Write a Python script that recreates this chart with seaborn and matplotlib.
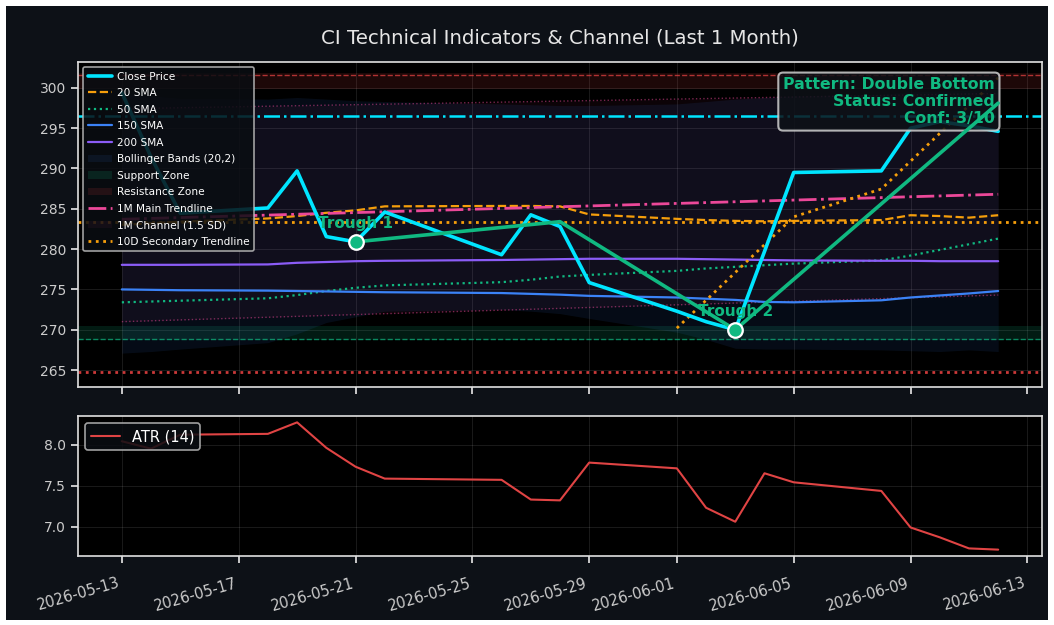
import matplotlib
matplotlib.use("Agg")
import matplotlib.pyplot as plt
import matplotlib.dates as mdates
from matplotlib.patches import Rectangle
import seaborn as sns
import pandas as pd

# ---------------- data ----------------
dates = ['2026-05-13', '2026-05-14', '2026-05-15', '2026-05-18', '2026-05-19',
         '2026-05-20', '2026-05-21', '2026-05-22', '2026-05-26', '2026-05-27',
         '2026-05-28', '2026-05-29', '2026-06-01', '2026-06-02', '2026-06-03',
         '2026-06-04', '2026-06-05', '2026-06-08', '2026-06-09', '2026-06-10',
         '2026-06-11', '2026-06-12']
close = [299.4, 291.4, 284.45, 285.1, 289.7, 281.55, 280.9, 284.6, 279.3, 284.25,
         282.8, 275.85, 272.3, 271.0, 270.0, 279.7, 289.5, 289.7, 295.0, 295.8,
         295.3, 294.6]
sma20 = [283.0, 283.2, 283.4, 283.8, 284.1, 284.5, 284.8, 285.3, 285.35, 285.35,
         285.3, 284.3, 283.75, 283.6, 283.5, 283.45, 283.5, 283.6, 284.2, 284.1,
         283.9, 284.2]
sma50 = [273.4, 273.5, 273.6, 273.9, 274.3, 274.8, 275.2, 275.5, 275.9, 276.2,
         276.6, 276.8, 277.3, 277.6, 277.8, 278.0, 278.2, 278.6, 279.2, 279.9,
         280.6, 281.3]
sma150 = [275.0, 274.95, 274.9, 274.85, 274.8, 274.75, 274.7, 274.65, 274.55, 274.45,
          274.35, 274.2, 274.0, 273.85, 273.7, 273.45, 273.4, 273.65, 274.0, 274.25,
          274.5, 274.8]
sma200 = [278.05, 278.05, 278.05, 278.1, 278.3, 278.4, 278.5, 278.55, 278.65, 278.7,
          278.75, 278.8, 278.8, 278.75, 278.7, 278.65, 278.6, 278.55, 278.55, 278.5,
          278.5, 278.5]
bb_upper = [299.3, 299.0, 298.7, 298.6, 298.8, 298.6, 298.4, 298.3, 298.0, 297.9,
            297.8, 297.8, 298.0, 298.3, 298.6, 298.8, 299.0, 299.2, 299.5, 299.6,
            299.7, 299.8]
bb_lower = [267.1, 267.3, 267.6, 268.4, 269.5, 270.9, 271.6, 272.3, 272.5, 272.3,
            272.0, 271.4, 269.7, 268.8, 267.7, 267.6, 267.6, 267.5, 267.4, 267.3,
            267.5, 267.3]
atr = [8.04, 7.95, 8.12, 8.13, 8.27, 7.96, 7.73, 7.585, 7.57, 7.33, 7.32, 7.78,
       7.71, 7.23, 7.06, 7.65, 7.54, 7.435, 6.99, 6.87, 6.735, 6.72]

trend_dates = ['2026-05-13', '2026-06-12']
trend_main = [283.7, 286.8]
channel_upper = [297.4, 299.3]
channel_lower = [271.0, 274.3]

ten_d_dates = dates[12:]
ten_d_trend = [270.2, 273.65, 277.1, 280.55, 284.0, 287.45, 290.9, 294.35, 297.8, 301.25]

pattern_dates = ['2026-05-21', '2026-05-28', '2026-06-03', '2026-06-12']
pattern_vals = [280.9, 283.4, 270.0, 298.1]
trough_dates = ['2026-05-21', '2026-06-03']
trough_vals = [280.9, 270.0]
trough_labels = ['Trough 1', 'Trough 2']

resistance_level = 301.6
resistance_zone = (299.8, 301.8)
support_level = 268.9
support_zone = (268.75, 270.5)
high_level = 296.56
pivot_level = 283.4
stop_level = 264.7

pattern_text = "Pattern: Double Bottom\nStatus: Confirmed\nConf: 3/10"
title = "CI Technical Indicators & Channel (Last 1 Month)"

legend_order = ['Close Price', '20 SMA', '50 SMA', '150 SMA', '200 SMA',
                'Bollinger Bands (20,2)', 'Support Zone', 'Resistance Zone',
                '1M Main Trendline', '1M Channel (1.5 SD)', '10D Secondary Trendline']

# ---------------- style ----------------
BG = '#0d1117'
sns.set_theme(style="dark", rc={
    "axes.facecolor": "black",
    "figure.facecolor": "white",
    "axes.edgecolor": "#e0e0e0",
    "axes.linewidth": 1.2,
    "xtick.color": "#e0e0e0",
    "ytick.color": "#e0e0e0",
    "xtick.labelcolor": "#cccccc",
    "ytick.labelcolor": "#cccccc",
    "xtick.bottom": True,
    "ytick.left": True,
    "xtick.major.size": 5,
    "ytick.major.size": 5,
    "text.color": "white",
    "grid.color": "#ffffff",
    "grid.alpha": 0.1,
    "grid.linewidth": 0.8,
})
plt.rcParams['font.family'] = ['DejaVu Sans']

df = pd.DataFrame({'date': pd.to_datetime(dates), 'close': close, 'sma20': sma20,
                   'sma50': sma50, 'sma150': sma150, 'sma200': sma200,
                   'bb_upper': bb_upper, 'bb_lower': bb_lower, 'atr': atr})
tdates = pd.to_datetime(trend_dates)

fig = plt.figure(figsize=(10.54, 6.25), dpi=100)
fig.patches.append(Rectangle((6 / 1054, 5 / 625), (1048 - 6) / 1054, (620 - 6) / 625,
                             transform=fig.transFigure, facecolor=BG, edgecolor='none',
                             zorder=-10))
ax1 = fig.add_axes([78 / 1054, (625 - 387) / 625, 964 / 1054, 325 / 625])
ax2 = fig.add_axes([78 / 1054, (625 - 556) / 625, 964 / 1054, 140 / 625], sharex=ax1)

# ---------------- price panel ----------------
sns.lineplot(data=df, x='date', y='close', ax=ax1, color='#00e5ff', linewidth=2.6,
             label='Close Price', zorder=2.6)
sns.lineplot(data=df, x='date', y='sma20', ax=ax1, color='#f59e0b', linewidth=1.6,
             linestyle='--', label='20 SMA', zorder=2.2)
sns.lineplot(data=df, x='date', y='sma50', ax=ax1, color='#10b981', linewidth=1.6,
             linestyle=':', label='50 SMA', zorder=2.2)
sns.lineplot(data=df, x='date', y='sma150', ax=ax1, color='#3b82f6', linewidth=1.6,
             label='150 SMA', zorder=2.2)
sns.lineplot(data=df, x='date', y='sma200', ax=ax1, color='#8b5cf6', linewidth=1.6,
             label='200 SMA', zorder=2.2)
ax1.fill_between(df['date'], df['bb_lower'], df['bb_upper'], color='#3b82f6', alpha=0.09,
                 linewidth=0, label='Bollinger Bands (20,2)', zorder=1)
ax1.axhspan(*support_zone, color='#10b981', alpha=0.15, linewidth=0,
            label='Support Zone', zorder=0.8)
ax1.axhspan(*resistance_zone, color='#ef4444', alpha=0.12, linewidth=0,
            label='Resistance Zone', zorder=0.8)
sns.lineplot(x=tdates, y=trend_main, ax=ax1, color='#ec4899', linewidth=2,
             linestyle='-.', label='1M Main Trendline', zorder=2.3)
ax1.fill_between(tdates, channel_lower, channel_upper, color='#ec4899', alpha=0.05,
                 linewidth=0, label='1M Channel (1.5 SD)', zorder=1)
sns.lineplot(x=tdates, y=channel_upper, ax=ax1, color='#ec4899', linewidth=1,
             linestyle=':', alpha=0.5, zorder=1.5)
sns.lineplot(x=tdates, y=channel_lower, ax=ax1, color='#ec4899', linewidth=1,
             linestyle=':', alpha=0.5, zorder=1.5)
sns.lineplot(x=pd.to_datetime(ten_d_dates), y=ten_d_trend, ax=ax1, color='#f59e0b',
             linewidth=2, linestyle=':', label='10D Secondary Trendline', zorder=2.3)

# horizontal levels
ax1.axhline(resistance_level, color='#ef4444', linestyle='--', linewidth=1, alpha=0.7, zorder=1.6)
ax1.axhline(support_level, color='#10b981', linestyle='--', linewidth=1, alpha=0.7, zorder=1.6)
ax1.axhline(high_level, color='#00e5ff', linestyle='-.', linewidth=1.8, zorder=1.7)
ax1.axhline(pivot_level, color='#f59e0b', linestyle=':', linewidth=2, zorder=1.7)
ax1.axhline(stop_level, color='#ef4444', linestyle=':', linewidth=2, alpha=0.85, zorder=1.7)

# pattern
sns.lineplot(x=pd.to_datetime(pattern_dates), y=pattern_vals, ax=ax1, color='#10b981',
             linewidth=2.6, zorder=4)
sns.scatterplot(x=pd.to_datetime(trough_dates), y=trough_vals, ax=ax1, s=110,
                color='#10b981', edgecolor='white', linewidth=1.6, zorder=6)
for d, v, t in zip(pd.to_datetime(trough_dates), trough_vals, trough_labels):
    ax1.annotate(t, (d, v), xytext=(0, 13), textcoords='offset points', ha='center',
                 va='center', color='#10b981', fontsize=11, fontweight='bold', zorder=6)

ax1.text(0.951, 0.953, pattern_text, transform=ax1.transAxes, ha='right', va='top',
         multialignment='right', color='#10b981', fontsize=11.3, fontweight='bold',
         linespacing=1.15, zorder=3,
         bbox=dict(boxstyle='round,pad=0.3', facecolor=BG, alpha=0.85,
                   edgecolor='#d0d0d0', linewidth=1.5))

ax1.set_ylim(262.9, 303.2)
ax1.set_title(title, color='#e6e6e6', fontsize=14.2, pad=13)
ax1.set_xlabel('')
ax1.set_ylabel('')
ax1.grid(True)
handles, labels = ax1.get_legend_handles_labels()
hmap = dict(zip(labels, handles))
leg = ax1.legend([hmap[l] for l in legend_order], legend_order, loc='upper left',
                 fontsize=7.6, labelspacing=0.62, handlelength=2.3, handletextpad=0.5,
                 facecolor='#0a0d12', edgecolor='#bbbbbb', framealpha=0.85,
                 labelcolor='white')
leg.get_frame().set_linewidth(1.2)
plt.setp(ax1.get_xticklabels(), visible=False)

# ---------------- ATR panel ----------------
sns.lineplot(data=df, x='date', y='atr', ax=ax2, color='#e04444', linewidth=1.5,
             label='ATR (14)')
ax2.set_xlabel('')
ax2.set_ylabel('')
ax2.grid(True)
leg2 = ax2.legend(loc='upper left', fontsize=10.5, facecolor='#0a0d12', edgecolor='#bbbbbb',
                  framealpha=0.85, labelcolor='white')
leg2.get_frame().set_linewidth(1.2)

ax2.set_xlim(pd.Timestamp('2026-05-11 12:00'), pd.Timestamp('2026-06-13 12:00'))
ax2.xaxis.set_major_locator(mdates.DayLocator(bymonthday=[1, 5, 9, 13, 17, 21, 25, 29]))
ax2.xaxis.set_major_formatter(mdates.DateFormatter('%Y-%m-%d'))
ax2.set_yticks([7.0, 7.5, 8.0])
for ax in (ax1, ax2):
    ax.tick_params(axis='y', labelsize=10)
ax2.tick_params(axis='x', labelsize=10.5, pad=9)
plt.setp(ax2.get_xticklabels(), rotation=16, ha='right')

fig.savefig('out.png', dpi=100)
